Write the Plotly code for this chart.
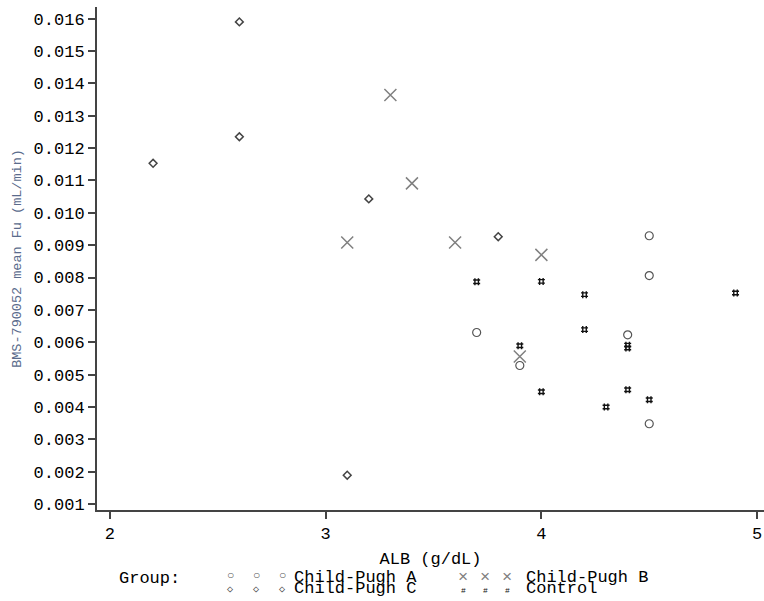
import plotly.graph_objects as go

# ---- data ----
cpa_alb = [4.5, 4.5, 3.7, 3.9, 4.4, 4.5]
cpa_fu = [0.00929, 0.00806, 0.0063, 0.00528, 0.00623, 0.00348]

cpb_alb = [3.3, 3.4, 3.1, 3.6, 4.0, 3.9]
cpb_fu = [0.01364, 0.01091, 0.00908, 0.00908, 0.0087, 0.00556]

cpc_alb = [2.2, 2.6, 2.6, 3.2, 3.8, 3.1]
cpc_fu = [0.01153, 0.0159, 0.01235, 0.01043, 0.00926, 0.00189]

ctl_alb = [3.7, 4.0, 4.2, 4.2, 3.9, 4.4, 4.4, 4.0, 4.4, 4.5, 4.3, 4.9]
ctl_fu = [0.00787, 0.00788, 0.00747, 0.00639, 0.00589, 0.00591, 0.00582,
          0.00447, 0.00453, 0.00422, 0.0040, 0.00752]

x_ticks = [2, 3, 4, 5]
y_ticks = [0.001, 0.002, 0.003, 0.004, 0.005, 0.006, 0.007, 0.008,
           0.009, 0.010, 0.011, 0.012, 0.013, 0.014, 0.015, 0.016]

MONO = "Liberation Mono, Courier New, monospace"
FS = 17

fig = go.Figure()
fig.add_trace(go.Scatter(x=cpa_alb, y=cpa_fu, mode="markers", name="Child-Pugh A",
                         marker=dict(symbol="circle-open", size=8, color="#555555",
                                     line=dict(width=1.2))))
fig.add_trace(go.Scatter(x=cpb_alb, y=cpb_fu, mode="markers", name="Child-Pugh B",
                         marker=dict(symbol="x-thin-open", size=12, color="#808080",
                                     line=dict(width=1.5, color="#808080"))))
fig.add_trace(go.Scatter(x=cpc_alb, y=cpc_fu, mode="markers", name="Child-Pugh C",
                         marker=dict(symbol="diamond-open", size=6, color="#444444",
                                     line=dict(width=1.5))))
fig.add_trace(go.Scatter(x=ctl_alb, y=ctl_fu, mode="markers", name="Control",
                         marker=dict(symbol="hash-open", size=7, color="#111111",
                                     line=dict(width=1.4))))

# plot-area pixel geometry
L, R, T, B = 97, 764, 7, 510
W, H = 764, 601


def px(xp):
    return (xp - L) / (R - L)


def py(yp):
    return (B - yp) / (B - T)


anns = []


def txt(x, y, s, size=FS, color="#000000", xanchor="left"):
    anns.append(dict(x=px(x), y=py(y), xref="paper", yref="paper", text=s,
                     showarrow=False, xanchor=xanchor, yanchor="middle",
                     font=dict(family=MONO, size=size, color=color)))


txt(117, 578, "Group:")
for cx in (230, 256, 282):
    txt(cx, 576, "○", size=12, color="#555555", xanchor="center")
    txt(cx, 589, "◇", size=10, color="#444444", xanchor="center")
for cx in (463, 485, 507):
    txt(cx, 577, "×", size=17, color="#808080", xanchor="center")
    txt(cx, 590, "#", size=8, color="#111111", xanchor="center")
txt(292, 577, "Child-Pugh A")
txt(292, 588, "Child-Pugh C")
txt(524, 577, "Child-Pugh B")
txt(524, 588, "Control")

fig.update_layout(
    width=W, height=H,
    margin=dict(l=L, r=W - R, t=T, b=H - B),
    paper_bgcolor="white", plot_bgcolor="white",
    showlegend=False,
    font=dict(family=MONO, size=FS, color="#000000"),
    annotations=anns,
    xaxis=dict(range=[1.94, 5.032], tickvals=x_ticks, ticktext=[str(v) for v in x_ticks],
               showline=True, linewidth=2, linecolor="#444444", mirror=False,
               ticks="outside", ticklen=7, tickwidth=2, tickcolor="#444444",
               showgrid=False, zeroline=False,
               title=dict(text="ALB (g/dL)", font=dict(family=MONO, size=FS), standoff=9),
               tickfont=dict(family=MONO, size=FS)),
    yaxis=dict(range=[0.000815, 0.01636], tickvals=y_ticks,
               ticktext=["%.3f" % v for v in y_ticks],
               showline=True, linewidth=2, linecolor="#444444", mirror=False,
               ticks="outside", ticklen=7, tickwidth=2, tickcolor="#444444",
               showgrid=False, zeroline=False,
               title=dict(text="BMS-790052 mean Fu (mL/min)",
                          font=dict(family=MONO, size=13.5, color="#5a6b8c"), standoff=9),
               tickfont=dict(family=MONO, size=FS)),
)

fig.write_html("out.html")
